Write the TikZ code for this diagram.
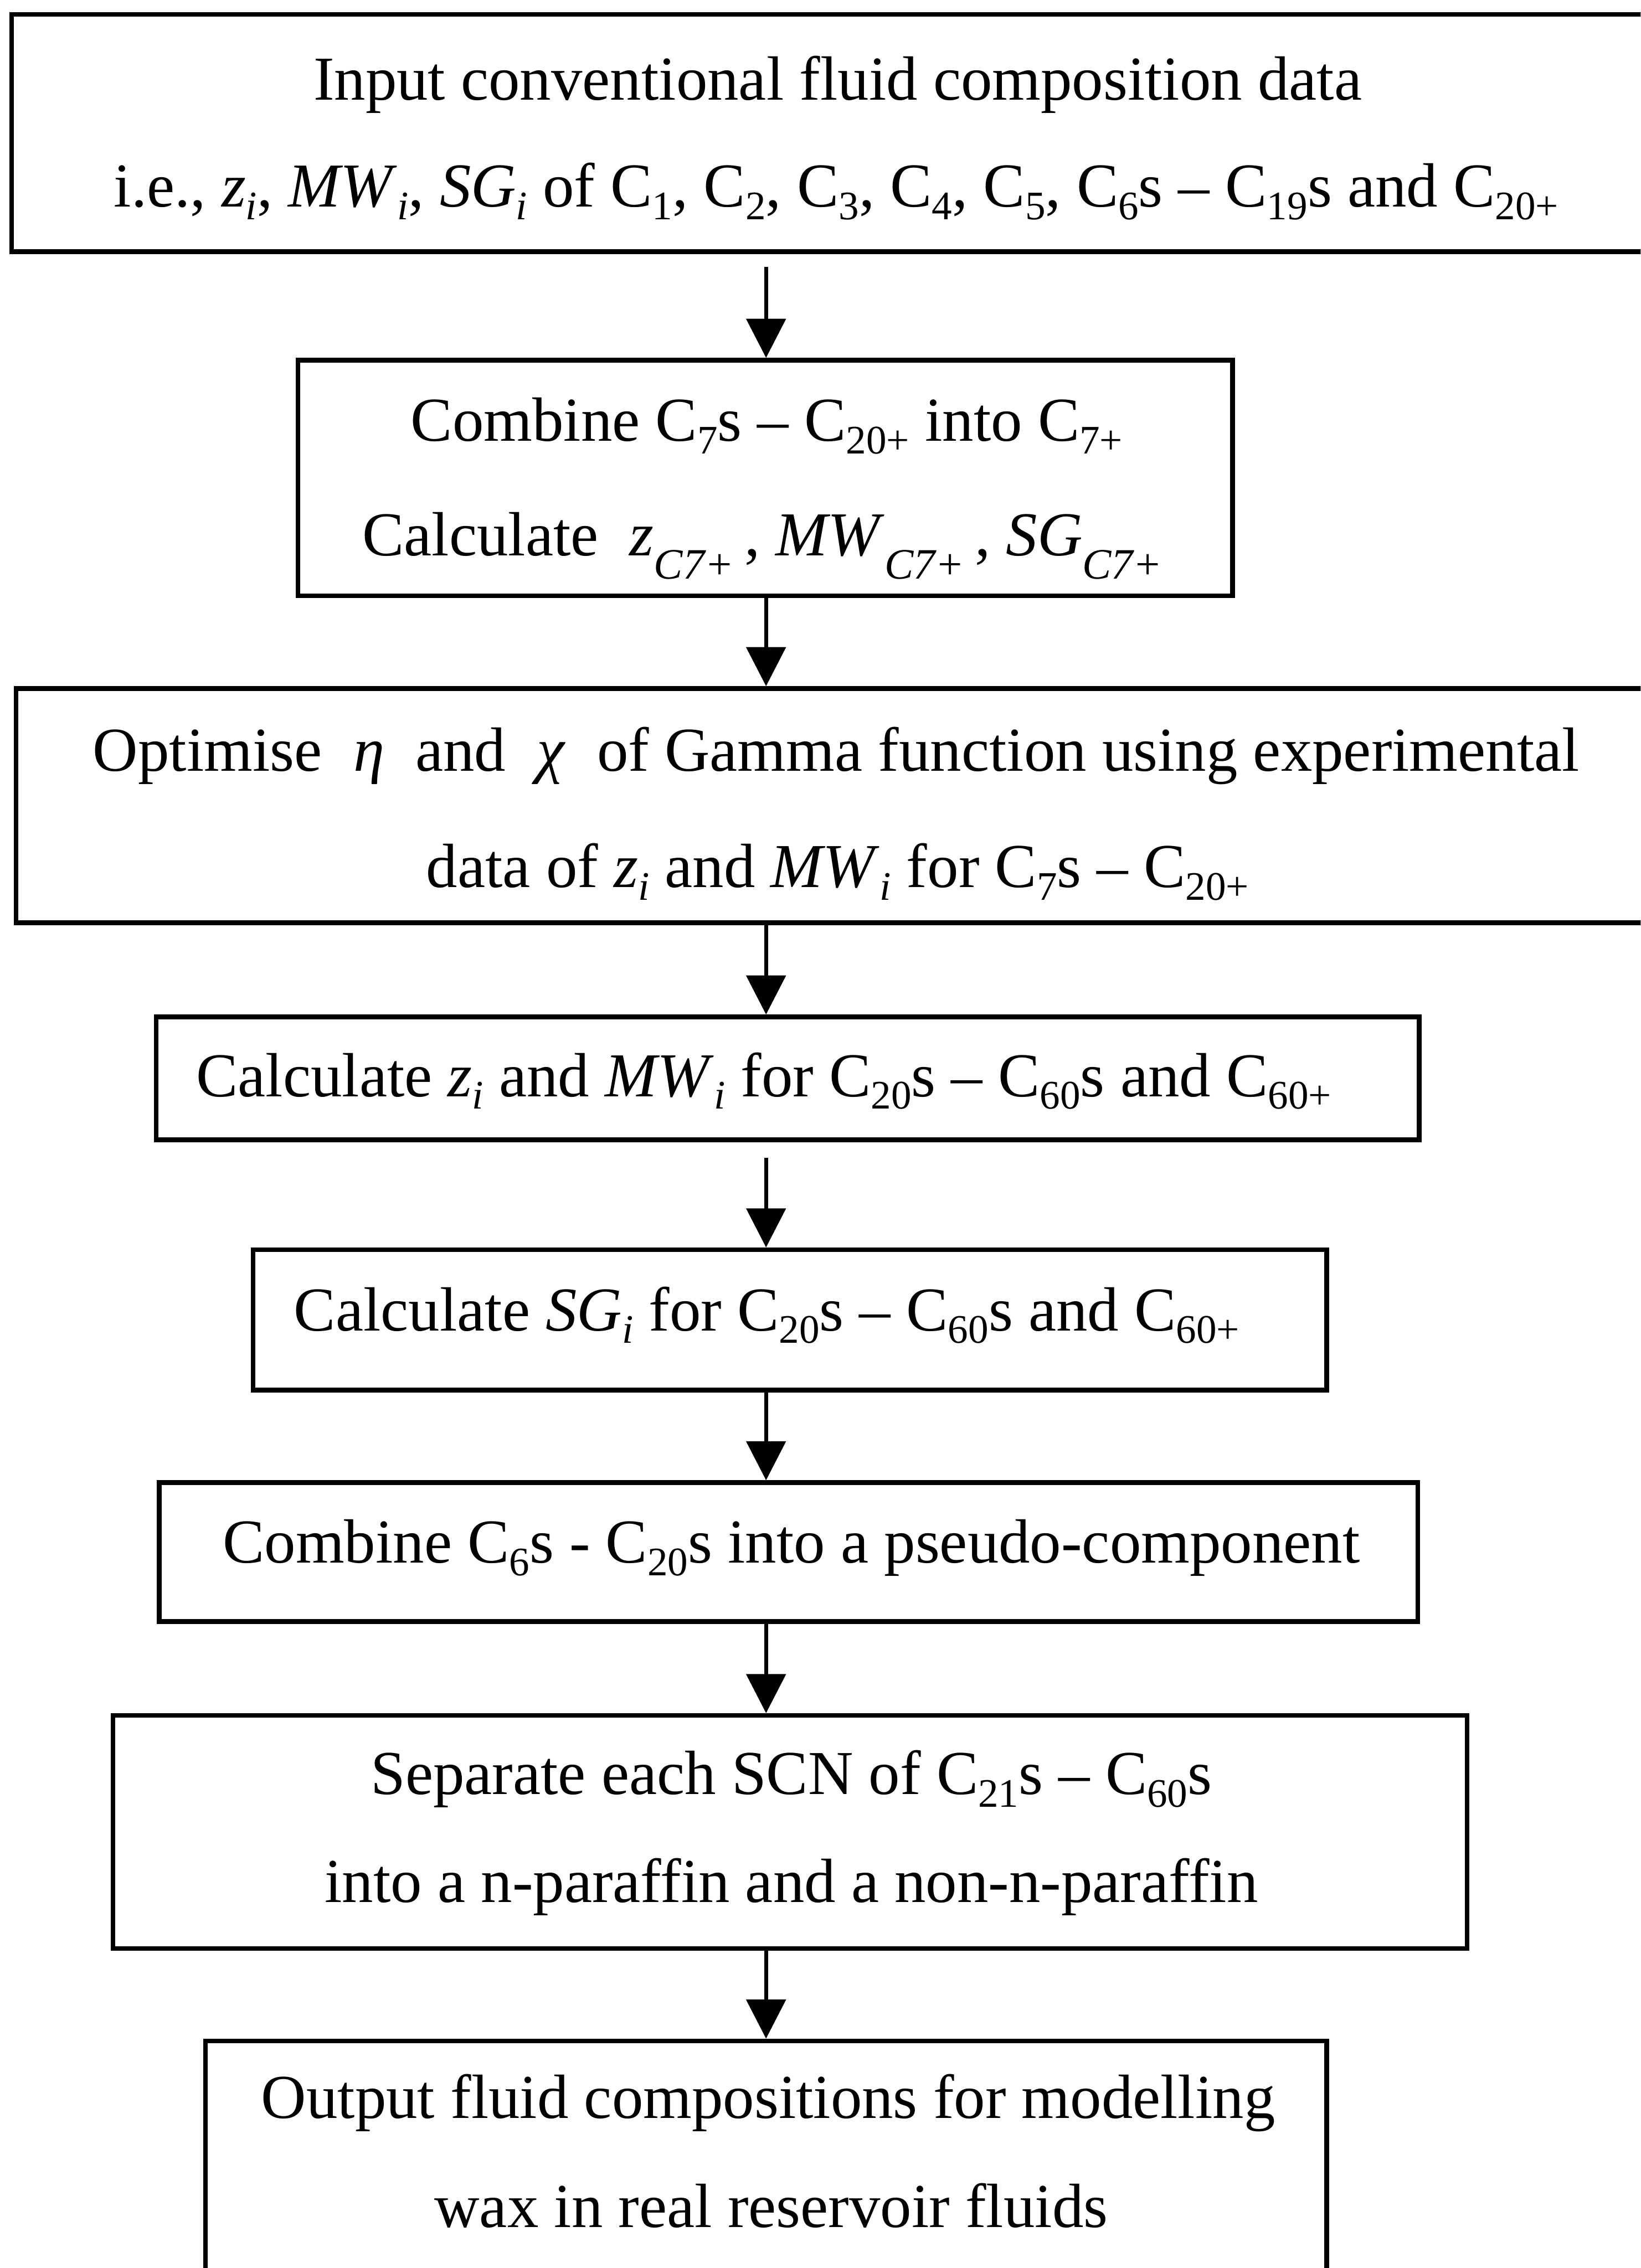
\documentclass[tikz,border=0pt]{standalone}
\usepackage{fontspec}
\setmainfont{Liberation Serif}
\usetikzlibrary{arrows.meta,fit}
\newcommand\lo[1]{\raisebox{-0.2em}{\fontsize{14pt}{14pt}\selectfont #1}}
\newcommand\loC[1]{\raisebox{-0.38em}{\fontsize{15pt}{15pt}\selectfont\itshape #1}}
\begin{document}
\begin{tikzpicture}[x=0.5pt,y=-0.5pt,
  box/.style={draw, line width=1.6pt, inner sep=0pt},
  txt/.style={anchor=base, inner sep=0pt, font=\fontsize{21.6pt}{26pt}\selectfont},
  arr/.style={line width=1.4pt, -{Triangle[length=13.5pt,width=13.5pt]}}]
\useasboundingbox (0,0) rectangle (1134,1568);
\clip (0,0) rectangle (1134,1568);
% boxes
\node[box, fit={(8,10) (1150,174)}] (b1) {};
\node[box, fit={(206,249) (852,412)}] (b2) {};
\node[box, fit={(11,476) (1147,638)}] (b3) {};
\node[box, fit={(108,703) (981,788)}] (b4) {};
\node[box, fit={(175,864) (917,961)}] (b5) {};
\node[box, fit={(110,1025) (980,1121)}] (b6) {};
\node[box, fit={(78,1186) (1014,1347)}] (b7) {};
\node[box, fit={(142,1411) (917,1600)}] (b8) {};
% texts
\node[txt] (t1a) at (579,69) {Input conventional fluid composition data};
\node[txt] (t1b) at (578,143) {i.e., \textit{z}\lo{\textit{i}}, \textit{MW}\lo{\textit{i}}, \textit{SG}\lo{\textit{i}} of C\lo{1}, C\lo{2}, C\lo{3}, C\lo{4}, C\lo{5}, C\lo{6}s – C\lo{19}s and C\lo{20+}};
\node[txt] (t2a) at (530,305) {Combine C\lo{7}s – C\lo{20+} into C\lo{7+}};
\node[txt] (t2b) at (527,384) {Calculate\ \ \textit{z}\loC{C7+}\,, \textit{MW}\loC{C7+}\,, \textit{SG}\loC{C7+}};
\node[txt] (t3a) at (578,533) {Optimise\ \ \textit{η}\ \ and\ \ \textit{χ}\ \ of Gamma function using experimental};
\node[txt] (t3b) at (579,613.5) {data of \textit{z}\lo{\textit{i}} and \textit{MW}\lo{\textit{i}} for C\lo{7}s – C\lo{20+}};
\node[txt] (t4) at (528,758) {Calculate \textit{z}\lo{\textit{i}} and \textit{MW}\lo{\textit{i}} for C\lo{20}s – C\lo{60}s and C\lo{60+}};
\node[txt] (t5) at (530,920) {Calculate \textit{SG}\lo{\textit{i}} for C\lo{20}s – C\lo{60}s and C\lo{60+}};
\node[txt] (t6) at (547,1080.6) {Combine C\lo{6}s - C\lo{20}s into a pseudo-component};
\node[txt] (t7a) at (547,1240.6) {Separate each SCN of C\lo{21}s – C\lo{60}s};
\node[txt] (t7b) at (547,1315) {into a n-paraffin and a non-n-paraffin};
\node[txt] (t8a) at (531,1464.5) {Output fluid compositions for modelling};
\node[txt] (t8b) at (533,1540) {wax in real reservoir fluids};
% arrows
\coordinate (ax) at (529.5,0);
\draw[arr, shorten <=4.5pt] (b1.south -| ax) -- (b2.north -| ax);
\draw[arr] (b2.south -| ax) -- (b3.north -| ax);
\draw[arr] (b3.south -| ax) -- (b4.north -| ax);
\draw[arr, shorten <=5.5pt] (b4.south -| ax) -- (b5.north -| ax);
\draw[arr] (b5.south -| ax) -- (b6.north -| ax);
\draw[arr] (b6.south -| ax) -- (b7.north -| ax);
\draw[arr] (b7.south -| ax) -- (b8.north -| ax);
\end{tikzpicture}
\end{document}
